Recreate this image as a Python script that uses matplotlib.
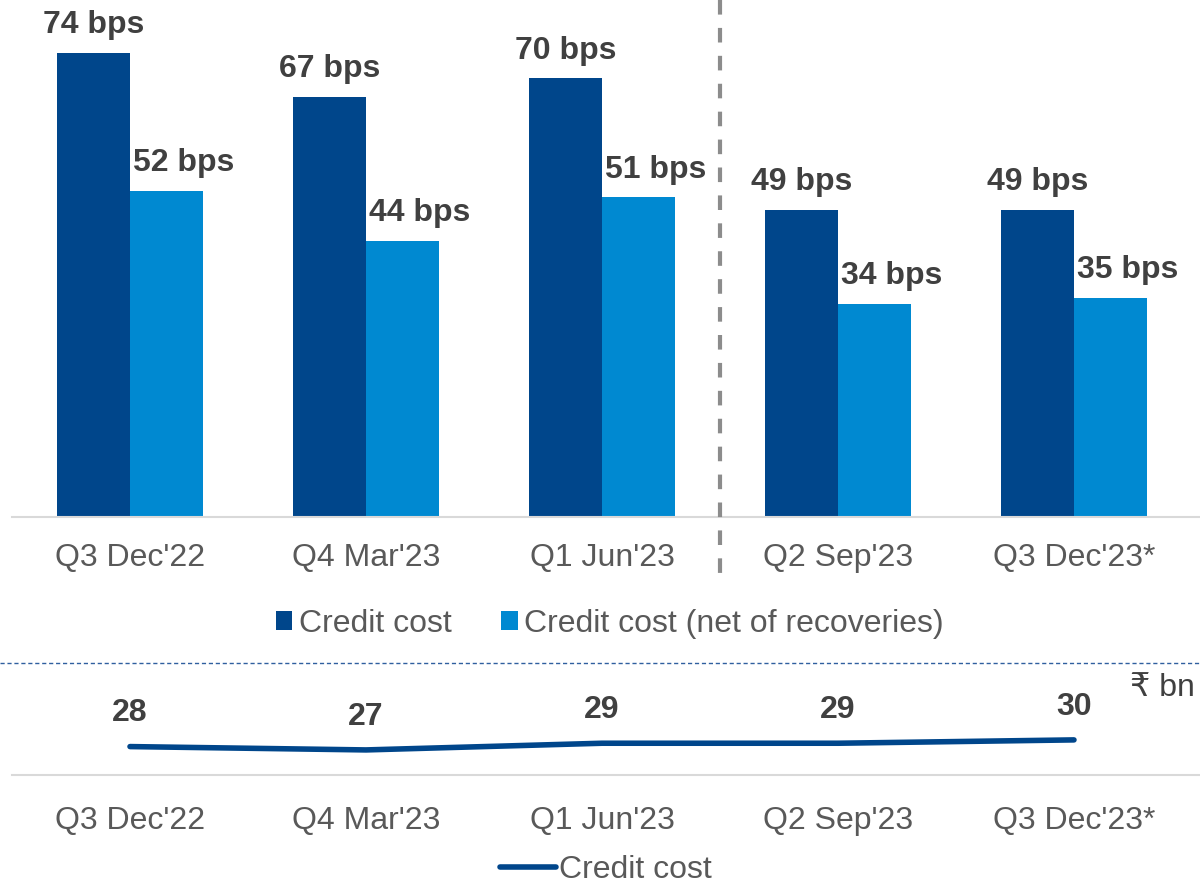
import matplotlib
matplotlib.use("Agg")
import matplotlib.pyplot as plt
import numpy as np
from matplotlib.lines import Line2D

plt.rcParams['font.family'] = ['Liberation Sans', 'DejaVu Sans']

quarters = ["Q3 Dec'22", "Q4 Mar'23", "Q1 Jun'23", "Q2 Sep'23", "Q3 Dec'23*"]
credit_cost_bps = [74, 67, 70, 49, 49]
net_cost_bps = [52, 44, 51, 34, 35]
credit_cost_bn = [28, 27, 29, 29, 30]

dark = "#00468B"
light = "#0089D1"
txt = "#404040"
tick_col = "#595959"
fs = 23

fig = plt.figure(figsize=(12, 8.86), dpi=100)

# top panel: bars in bps
ax = fig.add_axes([0.01, 1 - 517 / 886, 0.99, 517 / 886])
x = np.arange(len(quarters))
w = 0.31
b1 = ax.bar(x - w / 2, credit_cost_bps, w, color=dark, label="Credit cost")
b2 = ax.bar(x + w / 2, net_cost_bps, w, color=light, label="Credit cost (net of recoveries)")
# dark labels sit centred, light labels are nudged right like the source
for bars, vals, dx in ((b1, credit_cost_bps, 0), (b2, net_cost_bps, 12.5)):
    for r, v in zip(bars, vals):
        ax.annotate(f"{v} bps", (r.get_x() + r.get_width() / 2, v),
                    xytext=(dx, 20), textcoords="offset points",
                    ha="center", va="center", fontsize=fs,
                    fontweight="bold", color=txt)
ax.set_xlim(-0.5, 4.534)
ax.set_ylim(0, 82.5)
ax.set_yticks([])
ax.set_xticks(x)
ax.set_xticklabels(quarters, fontsize=fs, color=tick_col)
ax.tick_params(axis="x", length=0, pad=19)
for s in ("top", "right", "left"):
    ax.spines[s].set_visible(False)
ax.spines["bottom"].set_color("#D9D9D9")
ax.spines["bottom"].set_linewidth(1.5)

fig.legend(handles=[b1, b2], loc="center", bbox_to_anchor=(0.508, 1 - 624 / 886),
           ncol=2, frameon=False, fontsize=fs, handlelength=0.52,
           handleheight=0.52, handletextpad=0.2, columnspacing=1.55,
           labelcolor=tick_col)

# vertical dashed divider
fig.add_artist(Line2D([0.6, 0.6], [1.0, 1 - 575 / 886], color="#8C8C8C",
                      lw=3, linestyle=(0, (3.5, 3.2))))

# horizontal dashed separator
fig.add_artist(Line2D([0, 1], [1 - 663 / 886, 1 - 663 / 886], color="#2F5F9F",
                      lw=1, linestyle=(0, (3, 2))))

# bottom panel: line in bn
ax2 = fig.add_axes([0.01, 1 - 775 / 886, 0.99, 112 / 886])
ln, = ax2.plot(x, credit_cost_bn, color=dark, lw=4, solid_capstyle="round",
               label="Credit cost")
for xi, v in zip(x, credit_cost_bn):
    ax2.annotate(str(v), (xi, v), xytext=(0, 24), textcoords="offset points",
                 ha="center", va="center", fontsize=fs, fontweight="bold",
                 color=txt, annotation_clip=False)
ax2.set_xlim(-0.5, 4.534)
ax2.set_ylim(19.5, 53)
ax2.set_yticks([])
ax2.set_xticks(x)
ax2.set_xticklabels(quarters, fontsize=fs, color=tick_col)
ax2.tick_params(axis="x", length=0, pad=22)
for s in ("top", "right", "left"):
    ax2.spines[s].set_visible(False)
ax2.spines["bottom"].set_color("#D9D9D9")
ax2.spines["bottom"].set_linewidth(1.5)

fig.text(1195 / 1200, 1 - 688 / 886, "₹ bn", ha="right", va="center",
         fontsize=fs, color=txt)

fig.legend(handles=[ln], loc="center", bbox_to_anchor=(0.505, 1 - 870 / 886),
           frameon=False, fontsize=fs, handlelength=1.75, handletextpad=0.1,
           borderaxespad=0, borderpad=0.1, labelcolor=tick_col)

fig.savefig("out.png", dpi=100)
